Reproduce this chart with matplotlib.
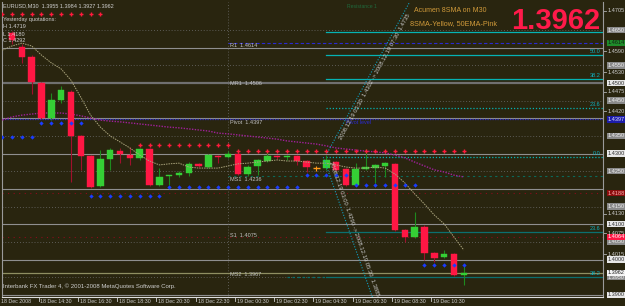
import matplotlib
matplotlib.use("Agg")
import matplotlib.pyplot as plt
import matplotlib.transforms as mtransforms
import numpy as np

plt.rcParams["font.family"] = ["Liberation Sans", "DejaVu Sans"]

# ─────────────────────────────────────────────────────────────────────────────
# DATA  (EURUSD M30, bar 0 = 18 Dec 2008 13:00)
# ─────────────────────────────────────────────────────────────────────────────

opens = [1.4642, 1.4602, 1.4574, 1.4500, 1.4401, 1.4452, 1.4475, 1.4350, 1.4293, 1.4208,
         1.4285, 1.4307, 1.4296, 1.4288, 1.4313, 1.4211, 1.4237, 1.4239, 1.4245, 1.4271,
         1.4262, 1.4293, 1.4290, 1.4299, 1.4242, 1.4265, 1.4279, 1.4293, 1.4290, 1.4293,
         1.4279, 1.4259, 1.4259, 1.4276, 1.4256, 1.4211, 1.4256, 1.4259, 1.4265, 1.4271,
         1.4084, 1.4064, 1.4092, 1.4018, 1.4007, 1.4016, 1.3955]
highs = [1.4647, 1.4610, 1.4579, 1.4503, 1.4472, 1.4492, 1.4480, 1.4353, 1.4296, 1.4310,
         1.4316, 1.4316, 1.4319, 1.4316, 1.4316, 1.4259, 1.4239, 1.4251, 1.4276, 1.4273,
         1.4299, 1.4296, 1.4307, 1.4310, 1.4268, 1.4285, 1.4310, 1.4296, 1.4296, 1.4296,
         1.4282, 1.4265, 1.4296, 1.4279, 1.4259, 1.4273, 1.4313, 1.4271, 1.4276, 1.4273,
         1.4087, 1.4135, 1.4098, 1.4021, 1.4027, 1.4018, 1.3984]
lows = [1.4610, 1.4557, 1.4469, 1.4398, 1.4395, 1.4443, 1.4220, 1.4254, 1.4203, 1.4205,
        1.4254, 1.4273, 1.4268, 1.4282, 1.4208, 1.4208, 1.4211, 1.4234, 1.4237, 1.4262,
        1.4259, 1.4273, 1.4288, 1.4239, 1.4237, 1.4239, 1.4276, 1.4285, 1.4282, 1.4268,
        1.4248, 1.4251, 1.4254, 1.4251, 1.4208, 1.4208, 1.4254, 1.4217, 1.4234, 1.4081,
        1.4050, 1.4061, 1.3999, 1.3993, 1.4004, 1.3953, 1.3927]
closes = [1.4622, 1.4574, 1.4503, 1.4401, 1.4452, 1.4480, 1.4350, 1.4293, 1.4205, 1.4285,
          1.4310, 1.4299, 1.4288, 1.4313, 1.4211, 1.4234, 1.4239, 1.4245, 1.4271, 1.4265,
          1.4296, 1.4290, 1.4299, 1.4242, 1.4262, 1.4282, 1.4293, 1.4290, 1.4293, 1.4279,
          1.4262, 1.4259, 1.4282, 1.4254, 1.4211, 1.4256, 1.4262, 1.4268, 1.4273, 1.4084,
          1.4064, 1.4092, 1.4018, 1.4004, 1.4016, 1.3956, 1.3962]

# moving averages, first value belongs to bar -1
sma8 = [1.4593, 1.4605, 1.4613, 1.4605, 1.4579, 1.4557, 1.4540, 1.4508, 1.4460, 1.4409,
        1.4375, 1.4350, 1.4333, 1.4316, 1.4296, 1.4279, 1.4268, 1.4271, 1.4273, 1.4262,
        1.4259, 1.4259, 1.4259, 1.4265, 1.4271, 1.4273, 1.4276, 1.4279, 1.4282, 1.4279,
        1.4279, 1.4276, 1.4273, 1.4273, 1.4268, 1.4262, 1.4259, 1.4259, 1.4262, 1.4259,
        1.4242, 1.4217, 1.4186, 1.4157, 1.4126, 1.4101, 1.4064, 1.4027]
ema50 = [1.4395, 1.4404, 1.4409, 1.4412, 1.4415, 1.4415, 1.4415, 1.4412, 1.4407, 1.4401,
         1.4395, 1.4392, 1.4390, 1.4387, 1.4384, 1.4381, 1.4378, 1.4375, 1.4373, 1.4370,
         1.4367, 1.4364, 1.4358, 1.4356, 1.4353, 1.4350, 1.4347, 1.4344, 1.4341, 1.4336,
         1.4333, 1.4330, 1.4327, 1.4322, 1.4316, 1.4313, 1.4310, 1.4307, 1.4305, 1.4302,
         1.4296, 1.4288, 1.4276, 1.4265, 1.4254, 1.4248, 1.4239, 1.4234]

# indicator dots: (first bar, last bar, price)
red_dot_rows = [(-1, 9, 1.4695), (13, 22, 1.4324), (23, 46, 1.4307)]
blue_dot_rows = [(-1, 2, 1.4347), (3, 7, 1.4387), (8, 15, 1.4180), (16, 29, 1.4205),
                 (30, 34, 1.4239), (35, 41, 1.4211), (42, 46, 1.3984)]

# pivot levels
pivot_names = ["R1", "MR1", "Pivot", "MS1", "S1", "MS2"]
pivot_values = [1.4614, 1.4506, 1.4397, 1.4236, 1.4075, 1.3967]

# fibonacci levels drawn from bar 32 (top label hidden behind the price)
fib_values = [1.4644, 1.4579, 1.4511, 1.4429, 1.4290, 1.4078, 1.3950]
fib_labels = ["", "50.0", "38.2", "23.6", "0.0", "23.6", "38.2"]

round_levels = [1.46, 1.45, 1.44, 1.43, 1.42, 1.41, 1.40, 1.39]
grid_levels = [1.465, 1.455, 1.445, 1.435, 1.425, 1.415, 1.405, 1.395]
red_levels = [1.4188, 1.4064]
bid = 1.3962

# trend lines (bar, price) pairs
trend_up = [(32.1, 1.4302), (40.6, 1.4735)]
trend_down = [(31.7, 1.4290), (36.8, 1.3885)]

# price scale (plain ticks that are not under a coloured box)
scale_ticks = [1.4705, 1.4590, 1.4530, 1.4475, 1.4420, 1.4130, 1.4075, 1.4015]

time_bars = [-1, 3, 7, 11, 15, 19, 23, 27, 31, 35, 39, 43]
time_labels = ["18 Dec 2008", "18 Dec 14:30", "18 Dec 16:30", "18 Dec 18:30",
               "18 Dec 20:30", "18 Dec 22:30", "19 Dec 00:30", "19 Dec 02:30",
               "19 Dec 04:30", "19 Dec 06:30", "19 Dec 08:30", "19 Dec 10:30"]

# ─────────────────────────────────────────────────────────────────────────────
# STYLE
# ─────────────────────────────────────────────────────────────────────────────

BG = "#29250f"
TXT = "#cfcfcf"
RED = "#ff1744"
GREEN = "#35cf35"
FS = 4.0

fig = plt.figure(figsize=(6.25, 3.06), dpi=100)
fig.patch.set_facecolor(BG)
ax = fig.add_axes([2 / 625, 9 / 306, 601 / 625, 295.5 / 306])
ax.set_facecolor(BG)
ax.set_xlim(-1.02, 60.18)
ax.set_ylim(1.38938, 1.47309)
ax.set_xticks([])
ax.set_yticks([])
ax.spines["top"].set_visible(False)
for side in ["left", "right", "bottom"]:
    ax.spines[side].set_color("#9a9a9a")
    ax.spines[side].set_linewidth(0.8)
ax.spines["bottom"].set_color("#e0e0e0")

x0, x1 = ax.get_xlim()

# grid & round numbers
for p in grid_levels:
    ax.axhline(p, color="#6e6e6e", lw=0.6, ls=(0, (1, 2.5)), zorder=1)
for p in round_levels:
    ax.axhline(p, color="#8f8f8f" if p != 1.45 else "#707070",
               lw=0.8 if p != 1.45 else 1.6, zorder=1)
ax.axvline(22, color="#6e6e6e", lw=0.6, ls=(0, (1, 2.5)), zorder=1)

# fib levels
for i, (p, lab) in enumerate(zip(fib_values, fib_labels)):
    lower = i >= 5
    col = "#0b6f6f" if lower else "#05b3b3"
    ls = (0, (1, 1.5)) if lab in ("0.0", "23.6") and not lower else "-"
    ax.plot([32.0, x1], [p, p], color=col, lw=0.9, ls=ls, zorder=2)
    if lab:
        ax.text(59.9, p + 0.0004, lab, color="#0fb0c0", fontsize=FS, ha="right",
                va="bottom", zorder=3)
ax.plot([28.0, 32.0], [fib_values[-1]] * 2, color="#0b6f6f", lw=0.9,
        ls=(0, (2, 2)), zorder=2)

# red dotted levels & bid line
for p in red_levels:
    ax.axhline(p, color="#8c0c1c", lw=0.8, ls=(0, (1, 4)), zorder=2)
ax.axhline(bid, color="#8f8f62", lw=0.9, zorder=2)

# pivot lines
ax.plot([22, x1], [pivot_values[0]] * 2, color="#2a2ad0", lw=0.8, ls=(0, (3, 2)), zorder=2)
ax.axhline(pivot_values[2], color="#2a2ad0", lw=0.9, ls=(0, (1, 1)), zorder=2)
ax.plot([22, x1], [pivot_values[3]] * 2, color="#0c6a5a", lw=0.8, ls=(0, (2, 3)), zorder=2)
for name, p in zip(pivot_names, pivot_values):
    ax.text(22.2, p - 0.0001, f"{name}  {p:.4f}", color="#bfbfbf", fontsize=FS,
            ha="left", va="top", zorder=6)
ax.text(34.0, pivot_values[2] - 0.0001, "Pivot level", color="#2a2ad0",
        fontsize=FS, ha="left", va="top", zorder=6)

# moving averages
ma_x = np.arange(-1, 47)
ax.plot(ma_x, ema50, color="#a0209a", lw=1.0, ls=(0, (1, 1)), zorder=3)
ax.plot(ma_x, sma8, color="#aaa47c", lw=0.7, ls=(0, (1.5, 1)), zorder=5)

# candles
bars = np.arange(len(opens))
for i, o, h, l, c in zip(bars, opens, highs, lows, closes):
    if c > o:
        body, wick = GREEN, "#1e8a1e"
    elif c < o:
        body, wick = RED, "#a0102c"
    else:
        body, wick = "#ff9a1a", "#ff9a1a"
    ax.vlines(i, l, h, color=wick, lw=0.8, zorder=4)
    if c == o:
        ax.hlines(c, i - 0.4, i + 0.4, color=body, lw=1.0, zorder=4)
        continue
    bot, top = min(o, c), max(o, c)
    ax.bar(i, max(top - bot, 0.0003), bottom=bot, width=0.66, color=body,
           edgecolor=body, lw=0.3, zorder=4)

# indicator dots
for a, b, p in red_dot_rows:
    xs = np.arange(a, b + 1)
    ax.plot(xs, [p] * len(xs), ls="none", marker="+", ms=3, mew=1.0,
            color="#ff1a3c", zorder=6)
for a, b, p in blue_dot_rows:
    xs = np.arange(a, b + 1)
    ax.plot(xs, [p] * len(xs), ls="none", marker="D", ms=2.2, mew=0,
            color="#1a3cff", zorder=6)

# trend lines with descriptions
for pts, txt in [(trend_up, "2008.12.19 03:30  1.4302 -> 2008.12.19 07:30  1.4735"),
                 (trend_down, "2008.12.19 03:00  1.4290 -> 2008.12.19 05:30  1.3885")]:
    (xa, ya), (xb, yb) = pts
    ax.plot([xa, xb], [ya, yb], color="#10a0c0", lw=0.8, ls=(0, (1, 1.5)), zorder=5)
    pa = ax.transData.transform((xa, ya))
    pb = ax.transData.transform((xb, yb))
    ang = np.degrees(np.arctan2(pb[1] - pa[1], pb[0] - pa[0]))
    if ang < -90:
        ang += 180
    ax.text((xa + xb) / 2 + 0.6, (ya + yb) / 2, txt, rotation=ang, color="#c8c8c8",
            fontsize=FS + 0.2, ha="center", va="center", rotation_mode="anchor",
            zorder=6)

# price scale on the right
blend = mtransforms.blended_transform_factory(ax.transAxes, ax.transData)
for p in scale_ticks:
    ax.plot([1.0, 1.005], [p, p], color="#b0b0b0", lw=0.6, transform=blend, clip_on=False)
    ax.text(1.008, p, f"{p:.4f}", color=TXT, fontsize=FS, va="center", ha="left",
            transform=blend, clip_on=False)


def box_label(p, face, fg):
    ax.text(1.008, p, f"{p:.4f}", color=fg, fontsize=FS, va="center", ha="left",
            transform=blend, clip_on=False, zorder=10,
            bbox=dict(boxstyle="square,pad=0.12", fc=face, ec="none"))


for p in grid_levels:
    box_label(p, "#8a8a8a", "#f0f0f0")
for p in [1.45, 1.43, 1.41, 1.40, 1.39]:
    box_label(p, "#e8e8e8", "#303030")
box_label(1.4614, "#1f8c2a", "#102010")
box_label(1.4397, "#1c1caa", "#e0e0ff")
box_label(1.4188, "#8c0c0c", "#ffb0b0")
box_label(1.4064, "#ff1744", "#ffffff")
box_label(bid, "#f4f4f4", "#202020")

# time scale
blend_x = mtransforms.blended_transform_factory(ax.transData, ax.transAxes)
for b, lab in zip(time_bars, time_labels):
    ax.plot([b - 0.3, b - 0.3], [0, -0.012], color="#d0d0d0", lw=0.6,
            transform=blend_x, clip_on=False)
    ax.text(b - 0.1, -0.008, lab, color=TXT, fontsize=3.8, ha="left", va="top",
            transform=blend_x, clip_on=False)


# overlay texts
def ftext(x, y, s, **kw):
    fig.text(x / 625, 1 - y / 306, s, **kw)


ftext(3, 6, "EURUSD,M30  1.3955 1.3984 1.3927 1.3962", color=TXT, fontsize=FS, va="center")
ftext(3, 20, "Yesterday quotations:", color=TXT, fontsize=FS, va="center")
ftext(3, 27, "H 1.4719", color=TXT, fontsize=FS, va="center")
ftext(3, 34, "L 1.4180", color=TXT, fontsize=FS, va="center")
ftext(3, 41, "C 1.4292", color=TXT, fontsize=FS, va="center")
ftext(347, 6, "Resistance 1", color="#1f6a3c", fontsize=FS - 0.3, va="center")
ftext(414, 10, "Acumen 8SMA on M30", color="#d09a3a", fontsize=5.0, va="center")
ftext(410, 24, "8SMA-Yellow, 50EMA-Pink", color="#d09a3a", fontsize=5.2, va="center")
ftext(600, 21, "1.3962", color="#ff1a4a", fontsize=21, fontweight="bold",
      ha="right", va="center")
ftext(3, 286, "Interbank FX Trader 4, \u00a9 2001-2008 MetaQuotes Software Corp.",
      color=TXT, fontsize=FS + 0.3, va="center")

fig.savefig("out.png", dpi=100, facecolor=BG)
